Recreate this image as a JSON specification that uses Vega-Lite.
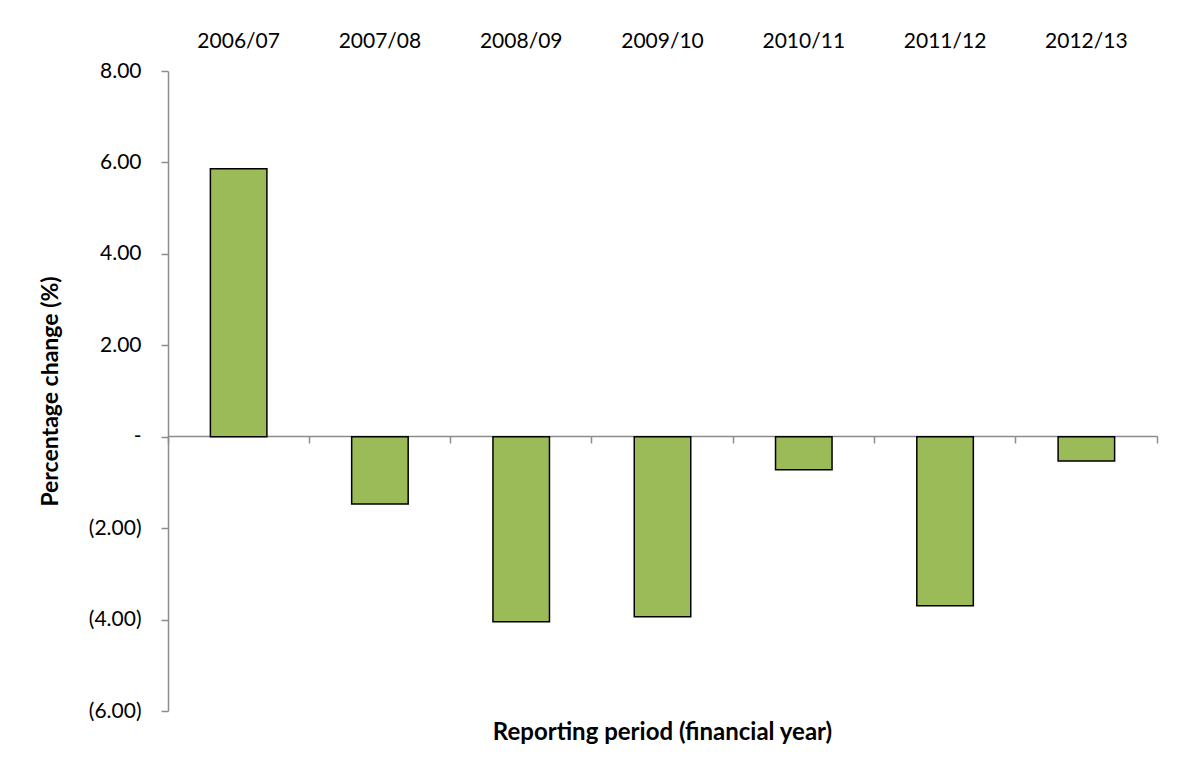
{
  "$schema": "https://vega.github.io/schema/vega-lite/v6.json",
  "autosize": "none",
  "width": 989,
  "height": 640,
  "padding": {"left": 168, "top": 71, "right": 29, "bottom": 65},
  "background": "white",
  "config": {"view": {"stroke": null}, "font": "Lato"},
  "title": {"text": "Reporting period (financial year)", "orient": "bottom", "anchor": "middle", "font": "Lato", "fontSize": 24, "fontWeight": "bold", "color": "black", "offset": 0},
  "data": {"values": [
    {"period": "2006/07", "change": 5.86},
    {"period": "2007/08", "change": -1.47},
    {"period": "2008/09", "change": -4.05},
    {"period": "2009/10", "change": -3.94},
    {"period": "2010/11", "change": -0.72},
    {"period": "2011/12", "change": -3.70},
    {"period": "2012/13", "change": -0.53}
  ]},
  "encoding": {
    "x": {"field": "period", "type": "nominal", "sort": null, "scale": {"paddingInner": 0, "paddingOuter": 0}},
    "y": {"field": "change", "type": "quantitative", "scale": {"domain": [-6, 8], "nice": false, "zero": false}}
  },
  "resolve": {"axis": {"x": "independent"}},
  "layer": [
    {
      "mark": {"type": "bar", "fill": "#9BBB59", "stroke": "black", "strokeWidth": 1.5, "width": {"band": 0.4}},
      "encoding": {
        "x": {"field": "period", "type": "nominal", "sort": null,
          "axis": {"orient": "top", "title": null, "domain": false, "ticks": false, "labelAngle": 0, "labelFont": "Lato", "labelFontSize": 21, "labelColor": "black", "labelPadding": 20}},
        "y": {"field": "change", "type": "quantitative",
          "axis": {"values": [-6, -4, -2, 0, 2, 4, 6, 8], "grid": false, "title": "Percentage change (%)", "titleFont": "Lato", "titleFontSize": 23, "titleFontWeight": "bold", "titleColor": "black", "titlePadding": 26,
            "labelExpr": "datum.value == 0 ? '-' : (datum.value < 0 ? '(' + format(-datum.value, '.2f') + ')' : format(datum.value, '.2f'))",
            "labelFont": "Lato", "labelFontSize": 21, "labelColor": "black", "labelPadding": 20,
            "domainColor": "#8c8c8c", "domainWidth": 1.5, "tickColor": "#8c8c8c", "tickSize": 7, "tickWidth": 1.5}}
      }
    },
    {
      "mark": {"type": "bar", "opacity": 0, "width": {"band": 0.4}},
      "encoding": {
        "x": {"field": "period", "type": "nominal", "sort": null,
          "axis": {"orient": "bottom", "offset": -275, "title": null, "labels": false, "bandPosition": 1, "tickExtra": true, "domainColor": "#8c8c8c", "domainWidth": 1.5, "tickColor": "#8c8c8c", "tickSize": 7, "tickWidth": 1.5}}
      }
    }
  ]
}
